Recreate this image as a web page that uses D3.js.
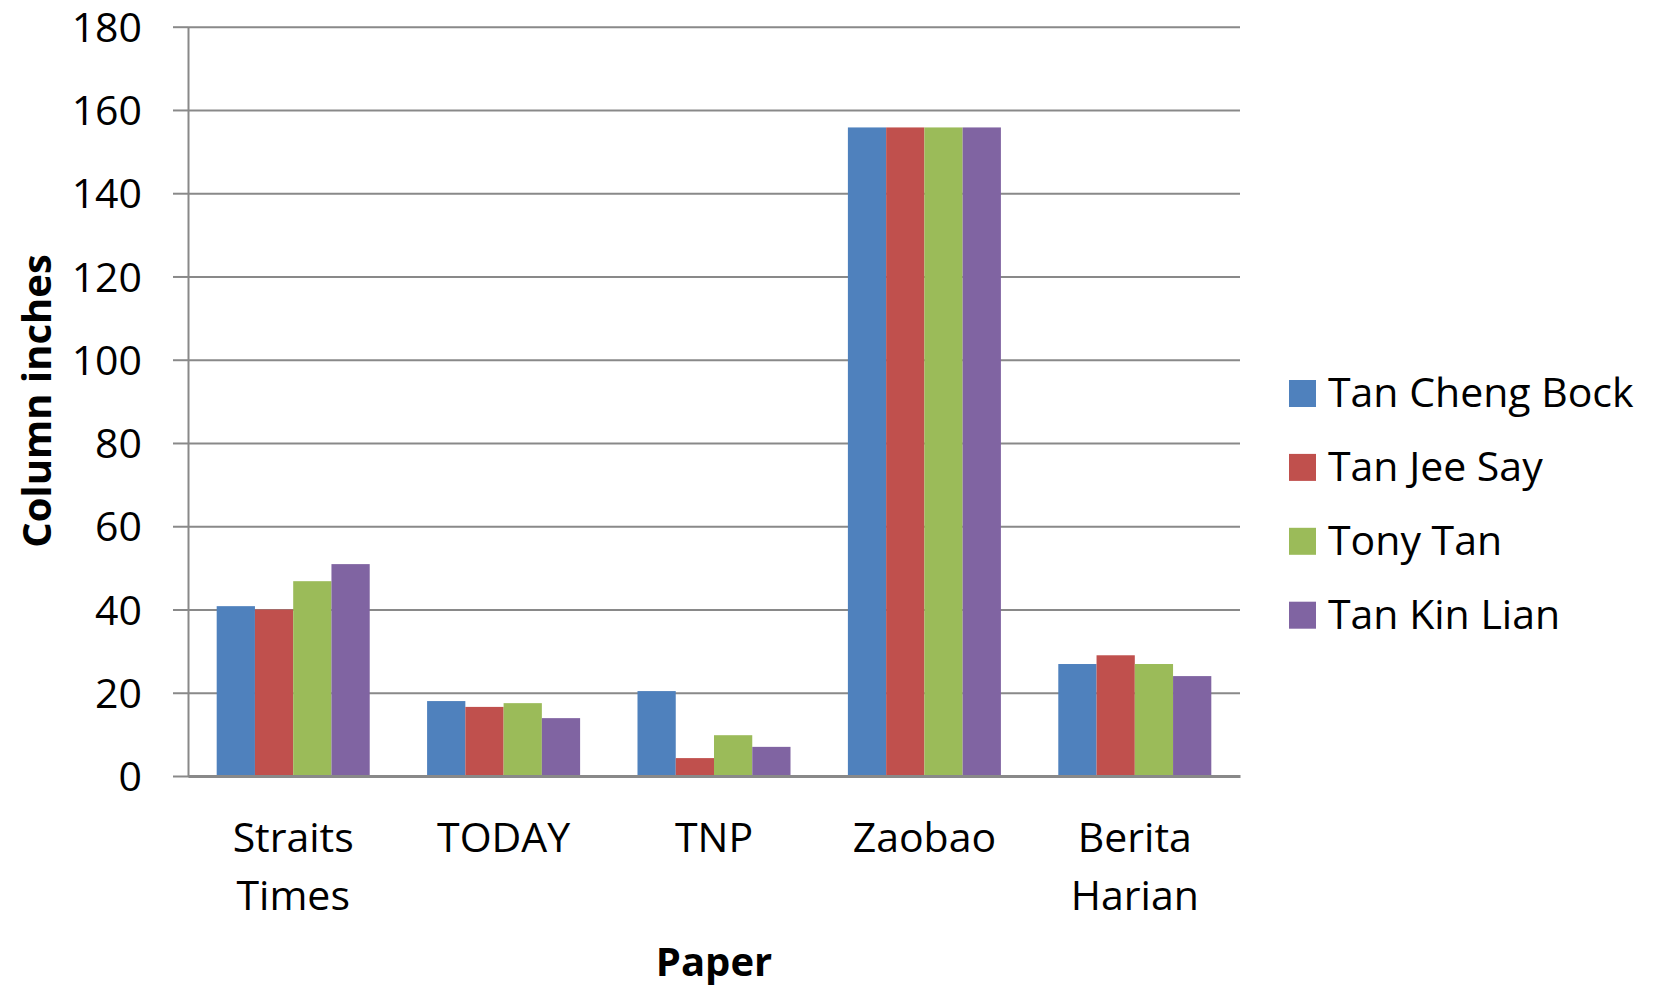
<!DOCTYPE html>
<html>
<head>
<meta charset="utf-8">
<script src="https://cdn.jsdelivr.net/npm/d3@7"></script>
<style>
  html, body { margin: 0; padding: 0; background: #fff; }
  svg { display: block; }
  text { font-family: "Open Sans", sans-serif; fill: #000; }
</style>
</head>
<body>
<script>
const categories = [["Straits", "Times"], ["TODAY"], ["TNP"], ["Zaobao"], ["Berita", "Harian"]];
const seriesNames = ["Tan Cheng Bock", "Tan Jee Say", "Tony Tan", "Tan Kin Lian"];
const seriesColors = ["#4F81BD", "#C0504D", "#9BBB59", "#8064A2"];
const tanChengBock = [40.8, 18.0, 20.4, 155.8, 26.9];
const tanJeeSay    = [40.0, 16.6, 4.3, 155.8, 29.0];
const tonyTan      = [46.8, 17.5, 9.8, 155.8, 26.9];
const tanKinLian   = [50.9, 13.9, 7.0, 155.8, 24.0];
const yTicks = [0, 20, 40, 60, 80, 100, 120, 140, 160, 180];
const xTitle = "Paper";
const yTitle = "Column inches";

const series = [tanChengBock, tanJeeSay, tonyTan, tanKinLian];
const W = 1655, H = 987;
const plot = { left: 188, right: 1240, top: 26.7, bottom: 776 };

const svg = d3.select("body").append("svg").attr("width", W).attr("height", H);

const catKeys = categories.map(c => c.join(" "));
const x = d3.scaleBand().domain(catKeys).range([plot.left, plot.right]);
const bandW = x.bandwidth();
const barW = bandW / 5.5;
const x1 = d3.scaleBand().domain(seriesNames).range([0, barW * 4]);
const y = d3.scaleLinear().domain([0, 180]).range([plot.bottom, plot.top]);

const gray = "#898989";

// gridlines
const grid = svg.append("g").attr("transform", `translate(${plot.left},0)`)
  .call(d3.axisLeft(y).tickValues(yTicks).tickSize(-(plot.right - plot.left)).tickFormat(""));
grid.select(".domain").remove();
grid.selectAll("line").attr("stroke", gray).attr("stroke-width", 2);

// bars
const groups = svg.append("g").selectAll("g")
  .data(catKeys).join("g")
  .attr("transform", d => `translate(${x(d) + (bandW - barW * 4) / 2},0)`);
groups.selectAll("rect")
  .data((d, i) => seriesNames.map((s, j) => ({ s, v: series[j][i], c: seriesColors[j] })))
  .join("rect")
  .attr("x", d => x1(d.s))
  .attr("width", x1.bandwidth())
  .attr("y", d => y(d.v))
  .attr("height", d => y(0) - y(d.v))
  .attr("fill", d => d.c);

// y axis
const yAxis = svg.append("g").attr("transform", `translate(${plot.left},0)`)
  .call(d3.axisLeft(y).tickValues(yTicks).tickSizeInner(15).tickSizeOuter(0).tickPadding(31));
yAxis.select(".domain").attr("stroke", gray).attr("stroke-width", 2);
yAxis.selectAll("line").attr("stroke", gray).attr("stroke-width", 2);
yAxis.selectAll("text").attr("font-size", 41).attr("font-family", "Open Sans").attr("fill", "#000").attr("dy", "0.357em");

// x axis
const xAxis = svg.append("g").attr("transform", `translate(0,${plot.bottom})`)
  .call(d3.axisBottom(x).tickSize(0).tickFormat(""));
xAxis.select(".domain").attr("stroke", gray).attr("stroke-width", 3);

// category labels
svg.append("g").selectAll("text")
  .data(categories).join("text")
  .attr("x", d => x(d.join(" ")) + bandW / 2)
  .attr("y", 852)
  .attr("text-anchor", "middle")
  .attr("font-size", 41)
  .selectAll("tspan").data(d => d).join("tspan")
  .attr("x", function() { return d3.select(this.parentNode).attr("x"); })
  .attr("dy", (d, i) => i === 0 ? 0 : 58)
  .text(d => d);

// axis titles
svg.append("text")
  .attr("x", (plot.left + plot.right) / 2)
  .attr("y", 976)
  .attr("text-anchor", "middle")
  .attr("font-size", 40)
  .attr("font-weight", "bold")
  .text(xTitle);

svg.append("text")
  .attr("transform", `translate(51,401) rotate(-90)`)
  .attr("text-anchor", "middle")
  .attr("font-size", 40)
  .attr("font-weight", "bold")
  .text(yTitle);

// legend
const legend = svg.append("g").selectAll("g")
  .data(seriesNames).join("g")
  .attr("transform", (d, i) => `translate(1289,${380 + i * 73.9})`);
legend.append("rect").attr("width", 27).attr("height", 27).attr("fill", (d, i) => seriesColors[i]);
legend.append("text").attr("x", 39).attr("y", 27).attr("font-size", 41).text(d => d);
</script>
</body>
</html>
